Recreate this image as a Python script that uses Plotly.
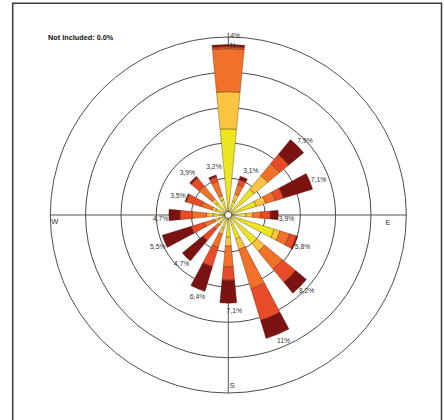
import plotly.graph_objects as go

# ---- data (percent of time per direction, by speed class) ----
directions = ["N", "NNE", "NE", "ENE", "E", "ESE", "SE", "SSE",
              "S", "SSW", "SW", "WSW", "W", "WNW", "NW", "NNW"]
dir_deg = [0, 22.5, 45, 67.5, 90, 112.5, 135, 157.5,
           180, 202.5, 225, 247.5, 270, 292.5, 315, 337.5]

class1 = [6.93, 0.92, 2.52, 2.16, 1.19, 3.74, 2.82, 1.80, 1.55, 0.88, 0.55, 0.55, 0.97, 0.80, 1.02, 1.05]
class2 = [3.11, 0.61, 1.47, 0.82, 0.55, 0.50, 0.84, 0.92, 0.76, 0.50, 0.25, 0.37, 0.56, 0.34, 0.45, 0.34]
class3 = [3.62, 0.82, 1.30, 0.84, 0.71, 0.84, 1.93, 3.45, 1.74, 1.18, 0.50, 0.89, 1.20, 0.92, 1.40, 1.26]
class4 = [0.17, 0.47, 0.99, 0.71, 0.78, 0.60, 1.43, 2.77, 1.12, 1.68, 1.18, 1.14, 1.03, 1.34, 0.87, 0.40]
class5 = [0.17, 0.29, 1.62, 2.57, 0.67, 0.12, 1.18, 1.60, 1.93, 2.16, 2.22, 2.55, 0.93, 0.10, 0.17, 0.16]

total_labels = ["14%", "3,1%", "7,9%", "7,1%", "3,9%", "5,8%", "8,2%", "11%",
                "7,1%", "6,4%", "4,7%", "5,5%", "4,7%", "3,5%", "3,9%", "3,2%"]

compass_text = ["N", "E", "S", "W"]

# ---- styles ----
class_colors = ["#EBE621", "#FCC43F", "#F1712A", "#E94A28", "#7B1313"]
label_nudge = [1.6, 5, 1.3, 1.6, 3.9, 1.1, -0.6, -1.2, -3.6, -2.1, -1.6, -1.9, -3.4, -2.4, 0.7, 5.9]
compass_r = [13.85, 13.12, 14.02, 14.26]
compass_theta = [1.5, 92.8, 178.7, 267.5]
R_MAX = 14.63

W, H = 444, 420
fig = go.Figure()

for vals, col in zip([class1, class2, class3, class4, class5], class_colors):
    fig.add_trace(go.Barpolar(
        r=vals, theta=dir_deg, width=11,
        marker=dict(color=col, line=dict(color="rgba(70,30,10,0.7)", width=0.5)),
        hoverinfo="skip", showlegend=False))

totals = [sum(v) for v in zip(class1, class2, class3, class4, class5)]
lab_r, lab_pos = [], []
for t in totals:
    if t + 0.7 > R_MAX - 0.4:
        lab_r.append(R_MAX - 0.2)
        lab_pos.append("top center")
    else:
        lab_r.append(t + 0.7)
        lab_pos.append("middle center")

fig.add_trace(go.Scatterpolar(
    r=lab_r,
    theta=[d + n for d, n in zip(dir_deg, label_nudge)],
    mode="text", text=total_labels,
    textfont=dict(family="Liberation Sans, Arial", size=6.8, color="#333333"),
    textposition=lab_pos, cliponaxis=False,
    hoverinfo="skip", showlegend=False))

fig.add_trace(go.Scatterpolar(
    r=compass_r, theta=compass_theta, mode="text", text=compass_text,
    textfont=dict(family="Liberation Sans, Arial", size=7.5, color="#333333"),
    textposition="middle center", cliponaxis=False,
    hoverinfo="skip", showlegend=False))

fig.update_layout(
    width=W, height=H,
    margin=dict(l=0, r=0, t=0, b=0),
    paper_bgcolor="white",
    showlegend=False,
    polar=dict(
        domain=dict(x=[50.3 / W, 406.3 / W], y=[1 - 393 / H, 1 - 37 / H]),
        hole=0.02,
        bgcolor="white",
        barmode="stack",
        radialaxis=dict(range=[0, R_MAX], tickvals=[2.8, 5.74, 8.7, 11.67],
                        showticklabels=False, ticks="", showline=False,
                        gridcolor="#4a4a4a", gridwidth=0.8),
        angularaxis=dict(direction="clockwise", rotation=90,
                         tickvals=[0, 90, 180, 270], showticklabels=False,
                         ticks="", gridcolor="#555555", gridwidth=1,
                         showline=True, linecolor="#3a3a3a", linewidth=0.9),
    ),
    annotations=[dict(
        text="<b>Not Included: 0.0%</b>", xref="paper", yref="paper",
        x=46 / W, y=1 - 37.7 / H, xanchor="left", yanchor="middle",
        showarrow=False,
        font=dict(family="Liberation Sans, Arial", size=7.3, color="#111111"))],
    shapes=[dict(type="rect", xref="paper", yref="paper",
                 x0=12.7 / W, x1=441.5 / W, y0=-0.05, y1=1 - 3.3 / H,
                 line=dict(color="#3a3a3a", width=1.5))],
)

fig.write_html("out.html")
